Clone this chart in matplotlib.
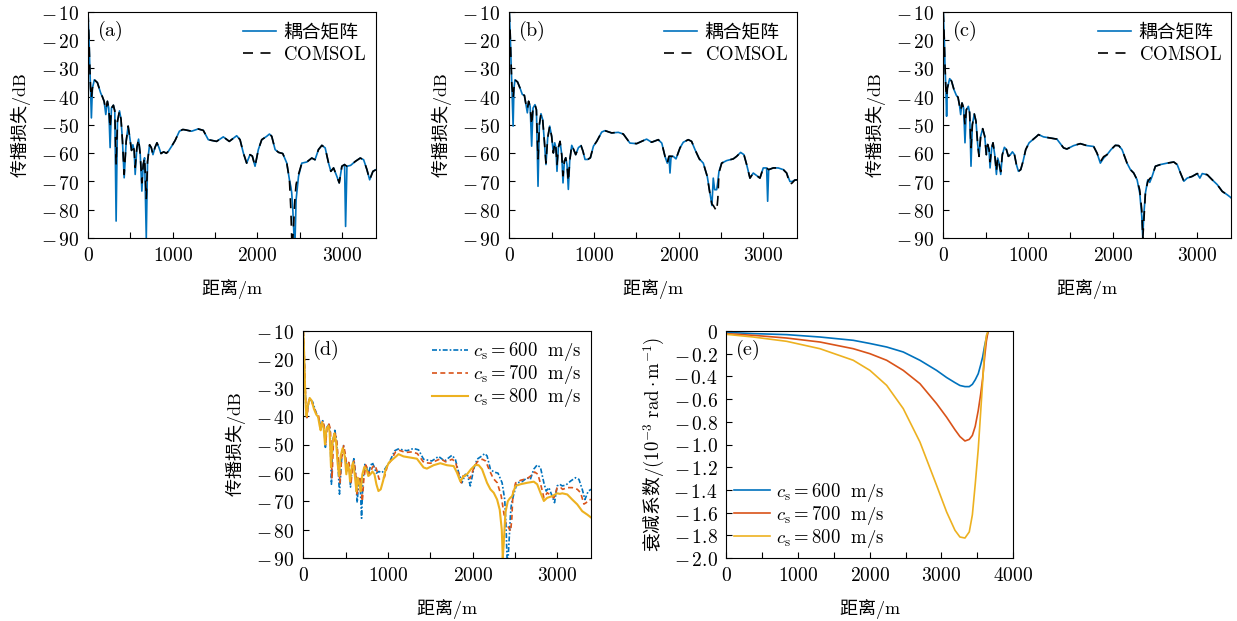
import matplotlib
matplotlib.use("Agg")
import matplotlib.pyplot as plt
from matplotlib.ticker import MultipleLocator, FuncFormatter

plt.rcParams['font.family'] = ['Noto Sans CJK SC', 'DejaVu Sans']
plt.rcParams['mathtext.fontset'] = 'cm'

# ---------------- transmission loss, c_s = 600 m/s ----------------
r_a = [0, 10, 20, 30, 40, 52, 75, 111, 150, 170, 190, 210, 229, 245, 261, 277, 300, 316, 332,
       348, 372, 390, 407, 427, 451, 474, 494, 514, 530, 545, 557, 577, 597, 617, 636, 652, 668,
       688, 703, 727, 747, 767, 790, 814, 838, 862, 893, 925, 949, 988, 1028, 1079, 1119, 1144,
       1223, 1301, 1361, 1420, 1518, 1597, 1668, 1755, 1795, 1834, 1873, 1913, 1940, 1972, 2011,
       2051, 2110, 2142, 2169, 2209, 2250, 2299, 2347, 2378, 2395, 2405, 2418, 2433, 2445, 2457,
       2485, 2524, 2583, 2642, 2680, 2721, 2761, 2800, 2840, 2867, 2899, 2938, 2966, 2997, 3029,
       3041, 3057, 3100, 3155, 3214, 3254, 3293, 3325, 3364, 3400]
tl_a_cm = [-10, -18, -28, -37, -47.5, -37, -34, -35, -38.7, -40, -41.6, -46.3, -41.6, -44, -58, -44,
           -43, -45, -84, -48.7, -45, -48, -55.7, -68.7, -55.7, -50.4, -54.6, -59, -57, -59, -67.5,
           -58, -55, -60.5, -73.4, -64, -61.6, -90, -63, -57, -58, -60.5, -58, -56.3, -58, -60.1,
           -59.5, -60, -59.3, -57.5, -55.5, -52.2, -51.6, -51.7, -52.2, -51.4, -51.9, -55.2, -55.8,
           -54.2, -55.8, -53.8, -55.2, -59.9, -63.5, -60.5, -61, -64.6, -58.7, -55.2, -54, -53.2,
           -54, -58.7, -59.7, -60.1, -63.5, -69.4, -72, -74, -80, -90, -90, -76.4, -68.2, -63.5,
           -63.1, -61.7, -62.3, -58.7, -57.2, -58.1, -63.5, -66.4, -65.2, -68.2, -70.5, -64.6, -64,
           -85.9, -64.6, -64.3, -62.9, -61.7, -62.3, -65.8, -69.4, -66.4, -65.8]
tl_a_fe = [-10, -18, -28, -37, -40.5, -37, -34, -35, -38.7, -40, -41.6, -44.5, -41.6, -44, -51, -44,
           -43, -45, -64, -48.7, -45, -48, -55.7, -67.5, -55.7, -50.4, -54.6, -59, -57, -59, -65,
           -58, -55, -60.5, -70.5, -64, -61.6, -76, -63, -57, -58, -60.5, -58, -56.3, -58, -60.1,
           -59.5, -60, -59.3, -57.5, -55.5, -52.2, -51.6, -51.7, -52.2, -51.4, -51.9, -55.2, -55.8,
           -54.2, -55.8, -53.8, -55.2, -59.9, -63.5, -60.5, -61, -64.6, -58.7, -55.2, -54, -53.2,
           -54, -58.7, -59.7, -60.1, -63.5, -69.4, -80, -90, -90, -82, -75, -71, -67.5, -63.5,
           -63.1, -61.7, -62.3, -58.7, -57.2, -58.1, -63.5, -66.4, -65.2, -68.2, -70.5, -64.6, -64,
           -64.3, -64.6, -64.3, -62.9, -61.7, -62.3, -65.8, -69.4, -66.4, -65.8]

# ---------------- transmission loss, c_s = 700 m/s ----------------
r_b = [0, 10, 20, 30, 45, 55, 67, 98, 126, 154, 178, 197, 213, 228, 246, 264, 280, 303, 320, 339,
       355, 374, 394, 414, 433, 453, 477, 500, 520, 536, 550, 563, 579, 599, 619, 634, 650, 666,
       681, 697, 713, 737, 760, 784, 816, 847, 870, 894, 926, 957, 993, 1032, 1091, 1129, 1208,
       1287, 1346, 1424, 1503, 1621, 1680, 1759, 1800, 1838, 1865, 1885, 1897, 1910, 1936, 1968,
       2015, 2054, 2113, 2152, 2192, 2243, 2290, 2337, 2369, 2392, 2408, 2424, 2448, 2462, 2475,
       2507, 2566, 2644, 2684, 2731, 2770, 2802, 2841, 2880, 2920, 2959, 2998, 3038, 3050, 3062,
       3116, 3175, 3235, 3274, 3313, 3340, 3370, 3400]
tl_b_cm = [-10, -17, -27, -36, -50.4, -37, -34, -34.8, -36.9, -39.2, -39.5, -42.8, -45.7, -41.6,
           -43.4, -57.5, -44, -42.8, -44.6, -71.7, -49.9, -46, -48.1, -55.7, -64, -54.6, -50.4, -54,
           -59.9, -56.3, -58, -66.4, -58, -55.8, -60.5, -70.5, -62.8, -61.6, -64, -72.8, -62.8,
           -57.2, -58.7, -60.5, -58, -57.3, -59.3, -62.2, -62.2, -61.6, -57.5, -55.8, -52.5, -52,
           -52.8, -52.6, -53.2, -56.4, -56.6, -55, -56.1, -55.2, -56.4, -61.1, -63.5, -61.1, -67,
           -61.1, -61.1, -62, -58.1, -56.1, -55.2, -55.8, -58.7, -62, -63.5, -68.2, -74.1, -78.5,
           -68.8, -72.9, -72.9, -70, -66.5, -63.5, -62.6, -62, -61.1, -59.7, -60.5, -64, -68.8,
           -67, -67.9, -68.8, -65.2, -65.2, -77, -65.8, -65.2, -65.2, -65.8, -67, -70, -70, -69.5,
           -69.4]
tl_b_fe = [-10, -17, -27, -36, -40.5, -37, -34, -34.8, -36.9, -39.2, -39.5, -42.8, -44.5, -41.6,
           -43.4, -50, -44, -42.8, -44.6, -62, -49.9, -46, -48.1, -55.7, -63.5, -54.6, -50.4, -54,
           -59.9, -56.3, -58, -64, -58, -55.8, -60.5, -68, -62.8, -61.6, -64, -70, -62.8,
           -57.2, -58.7, -60.5, -58, -57.3, -59.3, -62.2, -62.2, -61.6, -57.5, -55.8, -52.5, -52,
           -52.8, -52.6, -53.2, -56.4, -56.6, -55, -56.1, -55.2, -56.4, -61.1, -63.5, -61.1, -61,
           -61.1, -61.1, -62, -58.1, -56.1, -55.2, -55.8, -58.7, -62, -63.5, -68.2, -74.5, -78,
           -78.5, -79.3, -80.5, -76, -67, -63.5, -62.6, -62, -61.1, -59.7, -60.5, -64, -68.8,
           -67, -67.9, -68.8, -65.2, -65.2, -65.5, -65.8, -65.2, -65.2, -65.8, -67, -71, -70.5,
           -69.5, -69.4]

# ---------------- transmission loss, c_s = 800 m/s ----------------
r_c = [0, 10, 20, 30, 39, 48, 75, 98, 126, 154, 174, 193, 205, 221, 240, 256, 272, 296, 311, 327,
       343, 366, 386, 406, 422, 441, 465, 489, 508, 524, 540, 552, 571, 587, 607, 627, 642, 658,
       678, 697, 721, 745, 768, 792, 816, 840, 863, 887, 914, 942, 973, 1013, 1060, 1103, 1124,
       1183, 1262, 1341, 1420, 1459, 1538, 1617, 1696, 1775, 1814, 1854, 1893, 1933, 1980, 2031,
       2071, 2110, 2169, 2209, 2248, 2288, 2319, 2343, 2355, 2366, 2386, 2414, 2437, 2465, 2504,
       2564, 2642, 2721, 2761, 2800, 2840, 2879, 2938, 2997, 3029, 3057, 3116, 3175, 3234, 3293,
       3352, 3400]
tl_c_cm = [-10, -18, -29, -37, -46.9, -37, -33.6, -34.5, -37.5, -39.5, -40.2, -43.4, -46.3, -42.2,
           -44, -56.3, -44.6, -43.4, -45.7, -64.6, -49.9, -46.1, -48.7, -56.9, -61.1, -54, -51.3,
           -54, -60.5, -56.9, -58.7, -65.2, -58.1, -56.3, -60.5, -67.5, -61.7, -63.4, -67.5, -60.5,
           -57.9, -58.7, -61.1, -60.5, -59.5, -60.5, -64, -66.4, -65.8, -62.8, -58.7, -56.3, -55.1,
           -54, -53.4, -54.2, -54.6, -55, -58.1, -58.5, -57.3, -56.6, -57.3, -57.6, -59.9, -63.5,
           -61.7, -60.5, -58.7, -57.2, -57.3, -58.7, -63.5, -65.8, -67, -69.4, -74.1, -82.3, -90,
           -82.3, -74.1, -69.4, -70.3, -68.2, -64.6, -64, -63.5, -63.1, -64, -67, -69.9, -68.8,
           -68.2, -67.2, -68.8, -67.2, -67.6, -69.4, -71.1, -73.5, -74.7, -75.8]
tl_c_fe = [-10, -18, -29, -37, -40, -37, -33.6, -34.5, -37.5, -39.5, -40.2, -43.4, -45, -42.2,
           -44, -50, -44.6, -43.4, -45.7, -58, -49.9, -46.1, -48.7, -56.9, -61.1, -54, -51.3,
           -54, -60.5, -56.9, -58.7, -63, -58.1, -56.3, -60.5, -66.5, -61.7, -63.4, -66.5, -60.5,
           -57.9, -58.7, -61.1, -60.5, -59.5, -60.5, -64, -66.4, -65.8, -62.8, -58.7, -56.3, -55.1,
           -54, -53.4, -54.2, -54.6, -55, -58.1, -58.5, -57.3, -56.6, -57.3, -57.6, -59.9, -63,
           -61.2, -60.5, -58.7, -57.2, -57.3, -58.7, -63.5, -65.8, -67, -69.4, -73, -80, -90,
           -85, -74, -70, -69, -68.2, -64.6, -64, -63.5, -63.1, -64, -67, -69.9, -68.8,
           -68.2, -67.2, -67.4, -67.2, -67.6, -69.4, -71.1, -73.5, -74.7, -75.8]

# ---------------- attenuation coefficient ----------------
r_e = [0, 380, 845, 1308, 1772, 2004, 2237, 2468, 2700, 2932, 3072, 3188, 3257, 3327, 3387,
       3430, 3470, 3512, 3545, 3573, 3601, 3625, 3650, 4000]
att_600 = [-0.012, -0.023, -0.032, -0.053, -0.082, -0.11, -0.141, -0.185, -0.258, -0.347, -0.41,
           -0.455, -0.48, -0.49, -0.49, -0.47, -0.43, -0.376, -0.30, -0.23, -0.13, -0.06, 0, 0]
att_700 = [-0.023, -0.038, -0.062, -0.097, -0.156, -0.2, -0.258, -0.347, -0.464, -0.640, -0.76,
           -0.87, -0.93, -0.969, -0.955, -0.92, -0.84, -0.70, -0.56, -0.42, -0.23, -0.09, 0, 0]
att_800 = [-0.029, -0.053, -0.091, -0.156, -0.258, -0.347, -0.479, -0.684, -0.978, -1.36, -1.595,
           -1.756, -1.815, -1.824, -1.77, -1.62, -1.35, -1.04, -0.72, -0.45, -0.16, -0.04, 0, 0]

panel_tags = ['a', 'b', 'c', 'd', 'e']
speed_labels = [r'$c_{\mathrm{s}}=600\ \ \mathrm{m/s}$',
                r'$c_{\mathrm{s}}=700\ \ \mathrm{m/s}$',
                r'$c_{\mathrm{s}}=800\ \ \mathrm{m/s}$']

C_BLUE, C_RED, C_YEL = '#0072BD', '#D95319', '#EDB120'
TICK_FS, LAB_FS, LEG_FS, TAG_FS = 14, 13, 13.5, 14.5

fig = plt.figure(figsize=(12.37, 6.21), dpi=100)
W = 288 / 1237
H_top = 226 / 621
ax_a = fig.add_axes([88 / 1237, 1 - 238 / 621, W, H_top])
ax_b = fig.add_axes([509.3 / 1237, 1 - 238 / 621, W, H_top])
ax_c = fig.add_axes([943.3 / 1237, 1 - 238 / 621, W, H_top])
ax_d = fig.add_axes([303.3 / 1237, 1 - 558 / 621, W, 227 / 621])
ax_e = fig.add_axes([726 / 1237, 1 - 558 / 621, 287.3 / 1237, 227 / 621])


def int_fmt(v, pos):
    v = round(v)
    if v < 0:
        return r'$-\,%d$' % abs(v)
    return r'$%d$' % v


def dec_fmt(v, pos):
    if abs(v) < 1e-9:
        return r'$0$'
    return r'$-\,%.1f$' % abs(v)


def style(ax, xmax, ymin, ymax, ystep, yfmt):
    ax.set_xlim(0, xmax)
    ax.set_ylim(ymin, ymax)
    ax.xaxis.set_major_locator(MultipleLocator(1000))
    ax.xaxis.set_minor_locator(MultipleLocator(500))
    ax.yaxis.set_major_locator(MultipleLocator(ystep))
    ax.xaxis.set_major_formatter(FuncFormatter(int_fmt))
    ax.yaxis.set_major_formatter(FuncFormatter(yfmt))
    ax.tick_params(which='both', direction='in', length=4, width=0.8,
                   top=False, right=False, labelsize=TICK_FS)
    ax.tick_params(axis='y', pad=6)
    ax.tick_params(axis='x', pad=5)
    ax.set_xlabel(r'距离$/\mathrm{m}$', fontsize=LAB_FS, labelpad=8)
    for s in ax.spines.values():
        s.set_linewidth(0.8)


def add_tag(ax, tag):
    ax.text(0.03, 0.915, r'$(\mathrm{%s})$' % tag, transform=ax.transAxes,
            fontsize=TAG_FS, va='center', ha='left')


def tl_panel(ax, r, cm, fe, tag):
    ax.plot(r, cm, color=C_BLUE, lw=1.2, label='耦合矩阵')
    ax.plot(r, fe, color='black', lw=1.2, ls=(0, (6, 4.5)), label=r'$\mathrm{COMSOL}$')
    style(ax, 3400, -90, -10, 10, int_fmt)
    ax.set_ylabel(r'传播损失$/\mathrm{dB}$', fontsize=LAB_FS, labelpad=6)
    add_tag(ax, tag)
    ax.legend(loc='upper right', frameon=False, fontsize=LEG_FS, handlelength=1.75,
              handletextpad=0.4, labelspacing=0.08, borderaxespad=0.2, borderpad=0.3)


tl_panel(ax_a, r_a, tl_a_cm, tl_a_fe, panel_tags[0])
tl_panel(ax_b, r_b, tl_b_cm, tl_b_fe, panel_tags[1])
tl_panel(ax_c, r_c, tl_c_cm, tl_c_fe, panel_tags[2])

# (d) transmission loss for three shear speeds
ax_d.plot(r_a, tl_a_fe, color=C_BLUE, lw=1.2, ls=(0, (3, 1.2, 1, 1.2)), label=speed_labels[0])
ax_d.plot(r_b, tl_b_fe, color=C_RED, lw=1.2, ls=(0, (3, 2)), label=speed_labels[1])
ax_d.plot(r_c, tl_c_fe, color=C_YEL, lw=1.5, label=speed_labels[2])
style(ax_d, 3400, -90, -10, 10, int_fmt)
ax_d.set_ylabel(r'传播损失$/\mathrm{dB}$', fontsize=LAB_FS, labelpad=6)
add_tag(ax_d, panel_tags[3])
ax_d.legend(loc='upper right', frameon=False, fontsize=LEG_FS, handlelength=1.9,
            handletextpad=0.3, labelspacing=0.0, borderaxespad=0.2, borderpad=0.3)

# (e) attenuation coefficient
ax_e.plot(r_e, att_600, color=C_BLUE, lw=1.2, label=speed_labels[0])
ax_e.plot(r_e, att_700, color=C_RED, lw=1.2, label=speed_labels[1])
ax_e.plot(r_e, att_800, color=C_YEL, lw=1.2, label=speed_labels[2])
style(ax_e, 4000, -2.0, 0, 0.2, dec_fmt)
ax_e.set_ylabel(r'衰减系数$/(10^{-3}\ \mathrm{rad}\cdot\mathrm{m}^{-1})$', fontsize=13.5, labelpad=5)
add_tag(ax_e, panel_tags[4])
ax_e.legend(loc='lower left', frameon=False, fontsize=LEG_FS, handlelength=1.9,
            handletextpad=0.3, labelspacing=0.0, borderaxespad=0.15, borderpad=0.3)

fig.savefig('out.png', dpi=100)
